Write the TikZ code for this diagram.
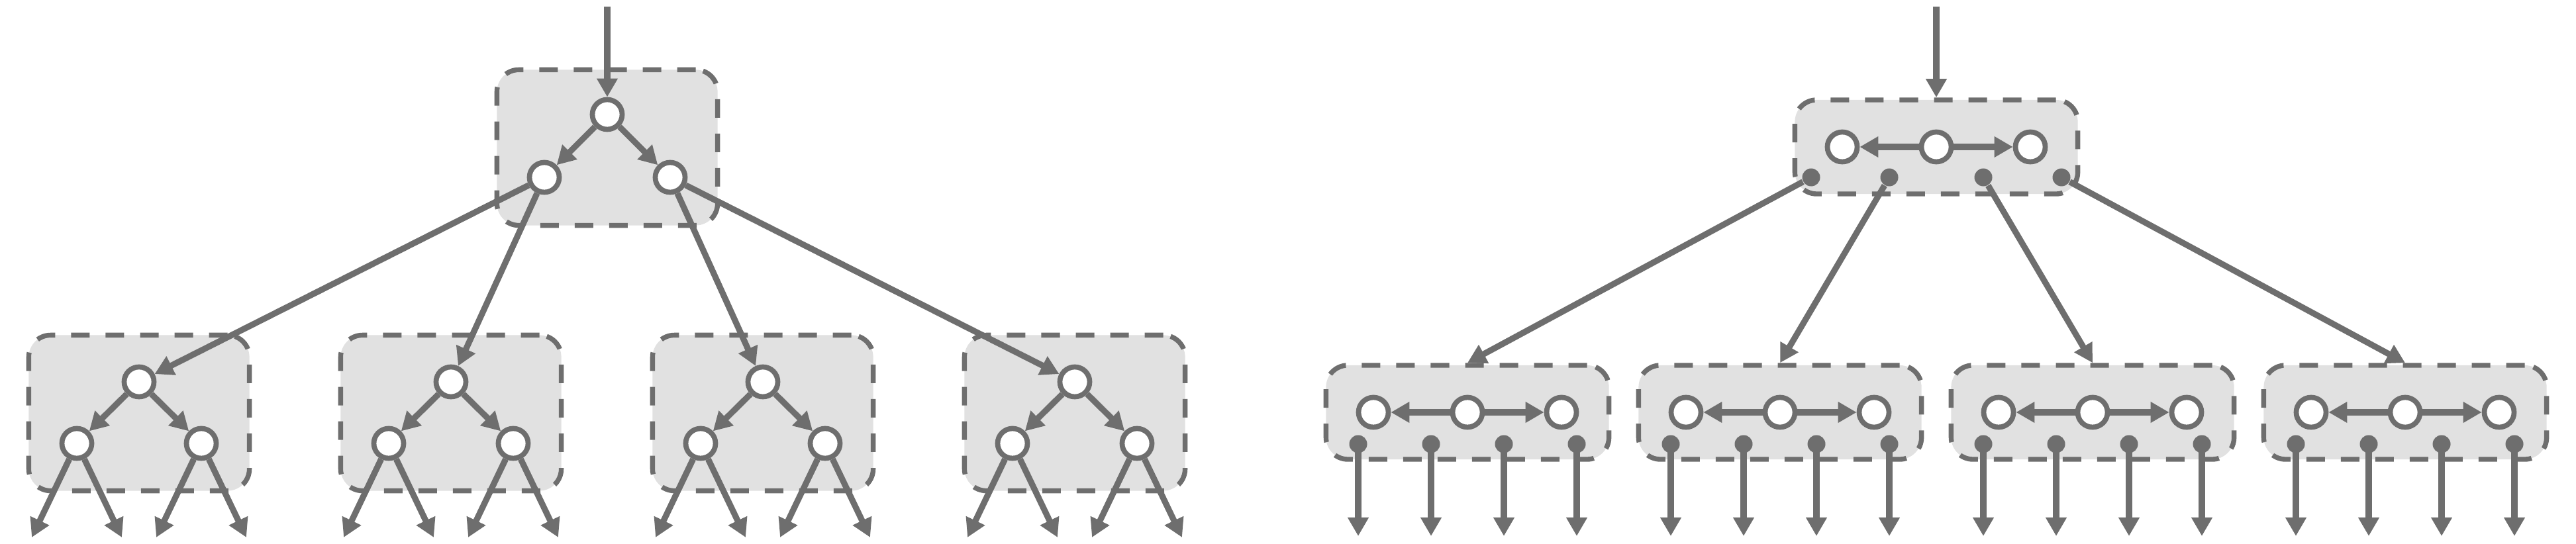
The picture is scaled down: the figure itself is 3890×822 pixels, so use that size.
\documentclass[tikz,border=0pt]{standalone}
\usetikzlibrary{arrows.meta}

\definecolor{edgegray}{RGB}{110,110,110}
\definecolor{boxgray}{RGB}{225,225,225}

\tikzset{
  page/.style={x=0.01cm, y=-0.01cm},
  blk/.style={draw=edgegray, fill=boxgray, line width=2.1pt, dash pattern=on 0.28cm off 0.24cm, rounded corners=0.33cm, inner sep=0},
  binblk/.style={blk, minimum width=3.33cm, minimum height=2.35cm},
  rowblk/.style={blk, minimum width=4.27cm, minimum height=1.42cm},
  key/.style={circle, draw=edgegray, fill=white, line width=2.2pt, minimum size=0.45cm, inner sep=0},
  ptr/.style={circle, fill=edgegray, minimum size=0.27cm, inner sep=0},
  link/.style={edgegray, line width=2.6pt, -{Triangle[length=0.28cm, width=0.3cm]}},
}

\begin{document}
\begin{tikzpicture}[page]
  \useasboundingbox (0,0) rectangle (3890,822);

  % left: blocks holding a small binary tree
  \node[binblk] (top) at (917,223) {};
  \node[key] (r) at (917,173) {};
  \node[key] (ra) at (822,268) {};
  \node[key] (rb) at (1012,268) {};
  \coordinate (in) at (917,10);

  \foreach \x [count=\i] in {210, 681, 1152, 1623} {
    \node[binblk] (b\i) at (\x,624) {};
    \node[key] (s\i) at (\x,577) {};
    \node[key] (sa\i) at (\x-94,670) {};
    \node[key] (sb\i) at (\x+94,670) {};
    \coordinate (oa\i) at (\x-94-68,812);
    \coordinate (ob\i) at (\x-94+68,812);
    \coordinate (oc\i) at (\x+94-68,812);
    \coordinate (od\i) at (\x+94+68,812);
    \draw[link] (s\i) -- (sa\i);
    \draw[link] (s\i) -- (sb\i);
    \draw[link] (sa\i) -- (oa\i);
    \draw[link] (sa\i) -- (ob\i);
    \draw[link] (sb\i) -- (oc\i);
    \draw[link] (sb\i) -- (od\i);
  }

  \draw[link] (in) -- (r);
  \draw[link] (r) -- (ra);
  \draw[link] (r) -- (rb);
  \draw[link] (ra) -- (s1);
  \draw[link] (ra) -- (s2);
  \draw[link] (rb) -- (s3);
  \draw[link] (rb) -- (s4);

  % right: blocks holding a row of keys
  \node[rowblk] (mtop) at (2924,222) {};
  \foreach \d [count=\i] in {-142, 0, 142}
    \node[key] (m\i) at (2924+\d,222) {};
  \foreach \d [count=\i] in {-189, -71, 71, 189}
    \node[ptr] (p\i) at (2924+\d,268) {};
  \coordinate (in2) at (2924,10);
  \draw[link] (in2) -- (mtop.north);
  \draw[link] (m2) -- (m1);
  \draw[link] (m2) -- (m3);

  \foreach \x [count=\i] in {2216, 2688, 3160, 3632} {
    \node[rowblk] (c\i) at (\x,623) {};
    \node[key] (ca\i) at (\x-142,623) {};
    \node[key] (cb\i) at (\x,623) {};
    \node[key] (cc\i) at (\x+142,623) {};
    \draw[link] (cb\i) -- (ca\i);
    \draw[link] (cb\i) -- (cc\i);
    \foreach \d [count=\j] in {-165, -55, 55, 165} {
      \node[ptr] (q\i\j) at (\x+\d,671) {};
      \coordinate (e\i\j) at (\x+\d,810);
      \draw[link] (q\i\j.center) -- (e\i\j);
    }
    \draw[link] (p\i) -- (c\i.north);
  }
\end{tikzpicture}
\end{document}
